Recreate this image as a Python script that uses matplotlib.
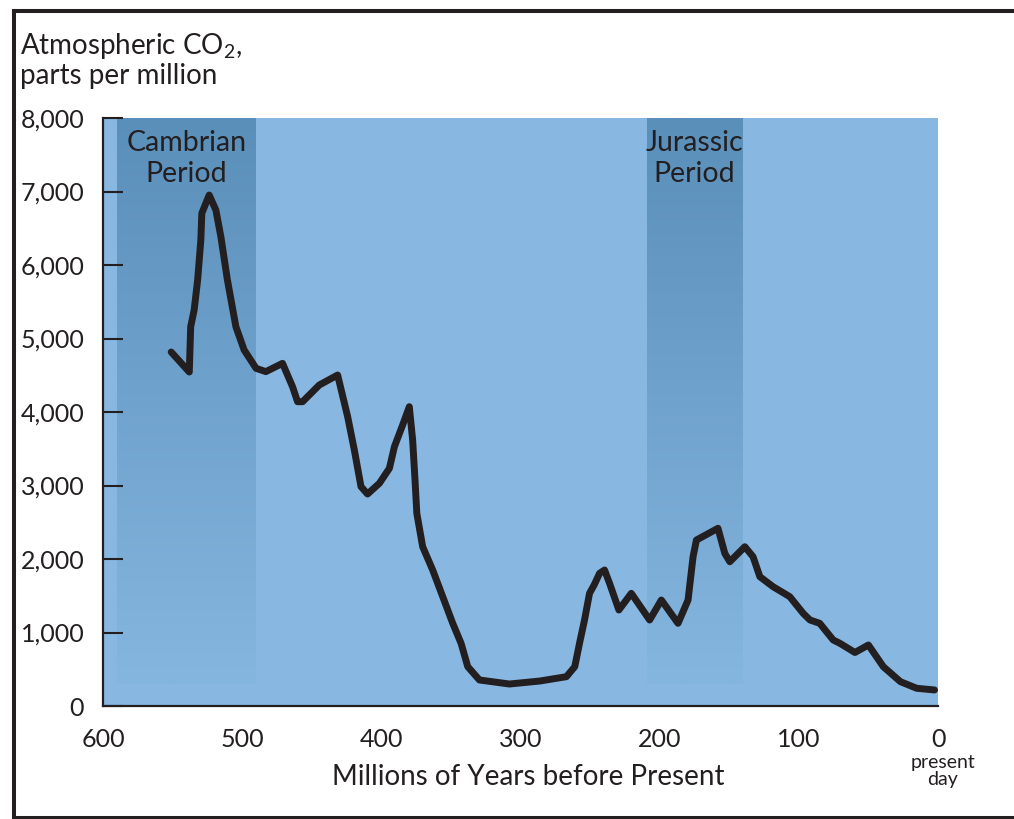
import numpy as np
import matplotlib
matplotlib.use("Agg")
import matplotlib.pyplot as plt
from matplotlib.colors import to_rgb
from matplotlib.lines import Line2D

plt.rcParams['font.family'] = ['Lato', 'DejaVu Sans']
plt.rcParams['mathtext.fontset'] = 'custom'
plt.rcParams['mathtext.rm'] = 'Lato'
plt.rcParams['mathtext.it'] = 'Lato'

# ---- data (millions of years before present, CO2 ppm) ----
years = [551, 538, 537, 534.5, 532, 529.7, 529, 523.7, 518.9, 515.3, 510.6, 504.5,
         498.6, 490, 483, 471, 463.8, 460.2, 456.6, 444.6, 431.4, 424.2, 419.4,
         414.6, 409.9, 401.4, 394.2, 390.6, 384.7, 379.9, 377.5, 375.8, 374.5,
         370.3, 363.1, 355.9, 348.7, 342.7, 337.9, 329.5, 308, 286, 267, 261,
         257.6, 254, 250.4, 247, 243.2, 239.6, 236, 229.3, 220.4, 207.2, 198.8,
         186.8, 179.6, 176, 173.6, 158.1, 153.2, 149.6, 138.8, 132.9, 128,
         118.5, 106.5, 96.9, 92, 85, 75.3, 70.5, 59.7, 50, 39.3, 27, 15.3, 2.5]
co2 = [4816, 4544, 5160, 5388, 5796, 6340, 6703, 6952, 6748, 6385, 5796, 5160,
       4844, 4594, 4549, 4662, 4344, 4140, 4140, 4367, 4503, 3936, 3483,
       2984, 2884, 3030, 3234, 3528, 3823, 4072, 3619, 3075, 2621,
       2167, 1850, 1488, 1125, 853, 535, 354, 299, 340, 399, 535,
       853, 1170, 1533, 1650, 1805, 1850, 1669, 1306, 1533, 1170, 1442,
       1125, 1442, 2031, 2258, 2418, 2077, 1963, 2167, 2031, 1759,
       1623, 1487, 1261, 1170, 1125, 898, 853, 728, 830, 535, 331, 241, 218]

periods = ["Cambrian\nPeriod", "Jurassic\nPeriod"]
period_start = [589.7, 209.4]
period_end = [490.2, 141.0]

y_ticks = [0, 1000, 2000, 3000, 4000, 5000, 6000, 7000, 8000]
y_ticklabels = ["0", "1,000", "2,000", "3,000", "4,000", "5,000", "6,000", "7,000", "8,000"]
x_ticks = [600, 500, 400, 300, 200, 100, 0]
x_ticklabels = ["600", "500", "400", "300", "200", "100", "0"]

BG = '#88b8e2'
BAND_TOP = '#5a8fba'
BAND_BOT = '#85b6e0'
INK = '#231f20'

W, H = 1014, 819
fig = plt.figure(figsize=(W / 100, H / 100), dpi=100)
ax = fig.add_axes([103 / W, 1 - 706 / H, (938 - 103) / W, (706 - 118) / H])
ax.set_facecolor(BG)

# gradient period bands
n = 256
top = np.array(to_rgb(BAND_TOP))
bot = np.array(to_rgb(BAND_BOT))
frac = np.linspace(0, 1, n)[:, None]
cols = top + (bot - top) * frac
img = np.repeat(cols[:, None, :], 2, axis=1)
for name, t0, t1 in zip(periods, period_start, period_end):
    ax.imshow(img, extent=(t0, t1, 300, 8000), origin='upper', aspect='auto',
              zorder=1, interpolation='bilinear')
    ax.text((t0 + t1) / 2, 7830, name, ha='center', va='top', fontsize=20.5,
            color=INK, linespacing=1.2, zorder=4)

ax.plot(years, co2, color=INK, lw=5.0, solid_capstyle='round',
        solid_joinstyle='round', zorder=3)

ax.set_xlim(600, 0)
ax.set_ylim(0, 8000)

for s in ['top', 'right']:
    ax.spines[s].set_visible(False)
for s in ['left', 'bottom']:
    ax.spines[s].set_color(INK)
    ax.spines[s].set_linewidth(1.6)
    ax.spines[s].set_zorder(5)

ax.set_yticks(y_ticks)
ax.set_yticklabels(y_ticklabels)
ax.set_xticks(x_ticks)
ax.set_xticklabels(x_ticklabels)
ax.tick_params(axis='y', direction='in', length=14.5, width=1.5, color=INK,
               labelsize=18, labelcolor=INK, pad=13.5)
ax.tick_params(axis='x', length=0, labelsize=18, labelcolor=INK, pad=16)

ax.set_xlabel("Millions of Years before Present", fontsize=20, color=INK, va='center')
ax.xaxis.set_label_coords((528 - 103) / (938 - 103), -(777 - 706) / (706 - 118))

fig.text(20 / W, 1 - 31 / H, "Atmospheric CO$_{2}$,\nparts per million",
         ha='left', va='top', fontsize=20, color=INK, linespacing=1.1)
fig.text(943 / W, 1 - 771 / H, "present\nday", ha='center', va='center',
         fontsize=14, color=INK, linespacing=0.95)

# figure frame (left, top, bottom)
lw_frame = 2.9
fig.add_artist(Line2D([13.5 / W, 13.5 / W], [1 - 817.5 / H, 1 - 10.5 / H],
                      transform=fig.transFigure, color=INK, lw=lw_frame,
                      solid_capstyle='projecting'))
fig.add_artist(Line2D([13.5 / W, 1.0], [1 - 10.5 / H, 1 - 10.5 / H],
                      transform=fig.transFigure, color=INK, lw=lw_frame,
                      solid_capstyle='projecting'))
fig.add_artist(Line2D([13.5 / W, 1.0], [1 - 817.5 / H, 1 - 817.5 / H],
                      transform=fig.transFigure, color=INK, lw=lw_frame,
                      solid_capstyle='projecting'))

fig.savefig("out.png", dpi=100)
